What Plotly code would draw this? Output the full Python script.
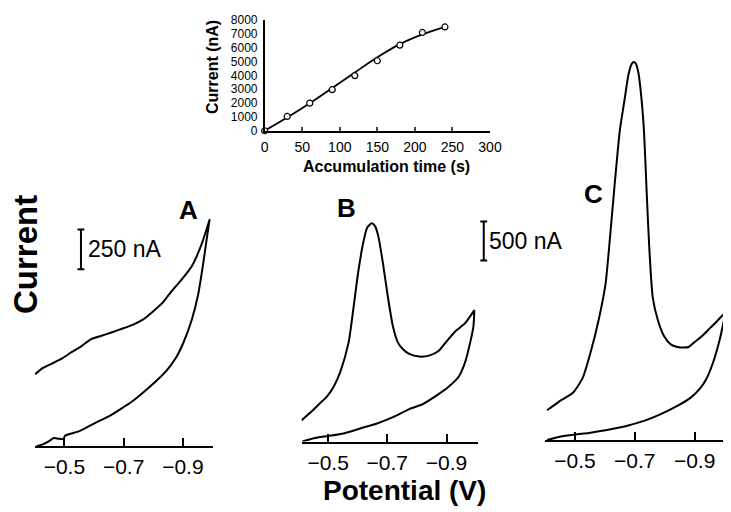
import plotly.graph_objects as go

W, H = 731, 512
FONT = "Liberation Sans, Arial, Helvetica, sans-serif"

# ---------------- inset data ----------------
acc_time = [0, 30, 60, 90, 120, 150, 180, 210, 240]
acc_current = [0, 1030, 1990, 2970, 3980, 5050, 6180, 7090, 7490]
fit_time = [0, 30, 60, 90, 120, 150, 180, 210, 240]
fit_current = [0, 950, 1980, 3080, 4200, 5300, 6250, 6950, 7500]
inset_xticks = [0, 50, 100, 150, 200, 250, 300]
inset_yticks = [0, 1000, 2000, 3000, 4000, 5000, 6000, 7000, 8000]

# ---------------- voltammograms (potential V, current nA) ----------------
potA_fwd = [-0.406, -0.425, -0.447, -0.464, -0.480, -0.497, -0.502, -0.546, -0.590, -0.623,
            -0.656, -0.699, -0.732, -0.765, -0.809, -0.842, -0.875, -0.902, -0.930, -0.952,
            -0.968, -0.979, -0.990]
curA_fwd = [0, 10, 30, 51, 47, 45, 66, 91, 132, 163,
            193, 244, 285, 335, 407, 467, 549, 650, 793, 955,
            1138, 1280, 1419]
potA_rev = [-0.990, -0.962, -0.930, -0.897, -0.864, -0.831, -0.798, -0.765, -0.732, -0.688,
            -0.656, -0.623, -0.590, -0.557, -0.524, -0.491, -0.458, -0.425, -0.401]
curA_rev = [1419, 1260, 1128, 1047, 976, 898, 843, 793, 762, 732,
            711, 691, 671, 626, 589, 549, 518, 488, 451]

potB_fwd = [-0.413, -0.452, -0.500, -0.552, -0.608, -0.663, -0.719, -0.774, -0.819, -0.863,
            -0.908, -0.941, -0.963, -0.980, -0.991, -0.994]
curB_fwd = [0, 42, 71, 104, 167, 229, 313, 417, 479, 583,
            708, 833, 1021, 1271, 1479, 1688]
potB_rev = [-0.994, -0.963, -0.930, -0.897, -0.874, -0.841, -0.808, -0.774, -0.752, -0.736,
            -0.719, -0.702, -0.686, -0.669, -0.658, -0.647, -0.632, -0.619, -0.602, -0.586,
            -0.569, -0.541, -0.519, -0.497, -0.469, -0.441, -0.410]
curB_rev = [1688, 1521, 1417, 1271, 1167, 1104, 1092, 1125, 1188, 1271,
            1479, 1854, 2271, 2646, 2771, 2804, 2750, 2563, 2188, 1729,
            1271, 896, 708, 583, 479, 375, 271]

potC_fwd = [-0.407, -0.449, -0.500, -0.547, -0.602, -0.640, -0.678, -0.733, -0.787, -0.842,
            -0.886, -0.919, -0.940, -0.962, -0.984, -1.004]
curC_fwd = [0, 42, 71, 92, 125, 154, 188, 250, 333, 438,
            542, 667, 792, 1000, 1292, 1646]
potC_rev = [-1.004, -0.973, -0.946, -0.924, -0.897, -0.880, -0.864, -0.842, -0.820, -0.798,
            -0.777, -0.760, -0.748, -0.739, -0.731, -0.722, -0.712, -0.703, -0.696, -0.689,
            -0.679, -0.666, -0.650, -0.633, -0.617, -0.602, -0.580, -0.552, -0.525, -0.492,
            -0.449, -0.407]
curC_rev = [1646, 1521, 1417, 1333, 1250, 1196, 1188, 1196, 1229, 1333,
            1542, 1833, 2500, 3250, 3950, 4400, 4720, 4840, 4860, 4830,
            4700, 4380, 3980, 3300, 2600, 2000, 1560, 1125, 792, 604,
            500, 383]

cv_ticks = [-0.5, -0.7, -0.9]
cv_ticktext = ["\u22120.5", "\u22120.7", "\u22120.9"]
panel_labels = ["A", "B", "C"]
scale_A = 250   # nA
scale_BC = 500  # nA


def px(x):
    return x / W


def py(y):
    return 1 - y / H


fig = go.Figure()

# inset
fig.add_trace(go.Scatter(x=fit_time, y=fit_current, mode="lines", line=dict(color="black", width=1.8, shape="spline"),
                         xaxis="x", yaxis="y", showlegend=False, hoverinfo="skip"))
fig.add_trace(go.Scatter(x=acc_time, y=acc_current, mode="markers",
                         marker=dict(symbol="circle", size=6, color="white", line=dict(color="black", width=1.2)),
                         xaxis="x", yaxis="y", showlegend=False, cliponaxis=False))

for i, (pf, cf, pr, cr) in enumerate([(potA_fwd, curA_fwd, potA_rev, curA_rev),
                                      (potB_fwd, curB_fwd, potB_rev, curB_rev),
                                      (potC_fwd, curC_fwd, potC_rev, curC_rev)]):
    n = i + 2
    fig.add_trace(go.Scatter(x=pf + pr, y=cf + cr, mode="lines",
                             line=dict(color="black", width=2, shape="spline", smoothing=0.6),
                             xaxis=f"x{n}", yaxis=f"y{n}", showlegend=False, cliponaxis=False))

# panel geometry (pixels)
A_axis_y, A_top, A_scale = 443.3, 200, 250 / 41.0
B_axis_y, B_top, B_scale = 438.5, 200, 500 / 40.0
C_axis_y, C_top, C_scale = 437.0, 40, 500 / 40.0

common_x = dict(showline=True, linecolor="black", linewidth=2, ticks="inside", ticklen=8, tickwidth=2,
                tickcolor="black", showgrid=False, zeroline=False, tickvals=cv_ticks, ticktext=cv_ticktext,
                tickfont=dict(family=FONT, size=21, color="black"), ticklabelstandoff=1)
common_y = dict(visible=False, showgrid=False, zeroline=False)

fig.update_layout(
    width=W, height=H, margin=dict(l=0, r=0, t=0, b=0),
    paper_bgcolor="white", plot_bgcolor="rgba(0,0,0,0)", showlegend=False,
    xaxis=dict(domain=[px(258.3), px(488.7)], range=[0, 300], anchor="y", showline=True, linecolor="black",
               linewidth=1.5, ticks="inside", ticklen=4, tickwidth=1.5, tickvals=inset_xticks, showgrid=False,
               zeroline=False, tickfont=dict(family=FONT, size=14, color="black"), ticklabelstandoff=3),
    yaxis=dict(domain=[py(119), py(5)], range=[0, 8000], anchor="x", showline=True, linecolor="black",
               linewidth=1.5, ticks="", tickvals=inset_yticks, showgrid=False, zeroline=False,
               tickfont=dict(family=FONT, size=12, color="black"), ticklabelstandoff=3,
               ticklabeloverflow="allow"),
    xaxis2=dict(domain=[px(23.3), px(205)], range=[-0.4, -1.0], anchor="y2", **common_x),
    yaxis2=dict(domain=[py(A_axis_y), py(A_top)], range=[0, (A_axis_y - A_top) * A_scale], anchor="x2", **common_y),
    xaxis3=dict(domain=[px(296), px(476)], range=[-0.41, -1.005], anchor="y3", **common_x),
    yaxis3=dict(domain=[py(B_axis_y), py(B_top)], range=[0, (B_axis_y - B_top) * B_scale], anchor="x3", **common_y),
    xaxis4=dict(domain=[px(545), px(730)], range=[-0.4, -1.005], anchor="y4", **common_x),
    yaxis4=dict(domain=[py(C_axis_y), py(C_top)], range=[0, (C_axis_y - C_top) * C_scale], anchor="x4", **common_y),
)

# scale bars (in data units of their panels)
A_bar_bottom = (A_axis_y - 261.5) * A_scale
B_bar_bottom = (B_axis_y - 252.3) * B_scale
shapes = []
for xc, yref, y0, y1 in [(70.5, "y2", A_bar_bottom, A_bar_bottom + scale_A),
                         (482.3, "y3", B_bar_bottom, B_bar_bottom + scale_BC)]:
    shapes.append(dict(type="line", xref="paper", yref=yref, x0=px(xc), x1=px(xc), y0=y0, y1=y1,
                       line=dict(color="black", width=2)))
    for yy in (y0, y1):
        shapes.append(dict(type="line", xref="paper", yref=yref, x0=px(xc - 3.5), x1=px(xc + 3.5), y0=yy, y1=yy,
                           line=dict(color="black", width=2)))
fig.update_layout(shapes=shapes)

ann = []
ann.append(dict(text=f"{scale_A} nA", xref="paper", yref="y2", x=px(76), y=A_bar_bottom + scale_A / 2,
                xanchor="left", yanchor="middle", showarrow=False, font=dict(family=FONT, size=23, color="black")))
ann.append(dict(text=f"{scale_BC} nA", xref="paper", yref="y3", x=px(486), y=B_bar_bottom + scale_BC / 2,
                xanchor="left", yanchor="middle", showarrow=False, font=dict(family=FONT, size=23, color="black")))
for lab, (xx, yy) in zip(panel_labels, [(180, 200), (342, 198), (595, 184)]):
    ann.append(dict(text=f"<b>{lab}</b>", xref="paper", yref="paper", x=px(xx), y=py(yy), xanchor="center",
                    yanchor="middle", showarrow=False, font=dict(family=FONT, size=26, color="black")))
ann.append(dict(text="<b>Current</b>", xref="paper", yref="paper", x=px(14), y=py(246), textangle=-90,
                xanchor="center", yanchor="middle", showarrow=False, font=dict(family=FONT, size=33, color="black")))
ann.append(dict(text="<b>Potential (V)</b>", xref="paper", yref="paper", x=px(401), y=py(489),
                xanchor="center", yanchor="middle", showarrow=False, font=dict(family=FONT, size=28, color="black")))
ann.append(dict(text="<b>Current (nA)</b>", xref="paper", yref="paper", x=px(205), y=py(54), textangle=-90,
                xanchor="center", yanchor="middle", showarrow=False, font=dict(family=FONT, size=16, color="black")))
ann.append(dict(text="<b>Accumulation time (s)</b>", xref="paper", yref="paper", x=px(383), y=py(156),
                xanchor="center", yanchor="middle", showarrow=False, font=dict(family=FONT, size=16, color="black")))
fig.update_layout(annotations=ann)

fig.write_html("out.html")
